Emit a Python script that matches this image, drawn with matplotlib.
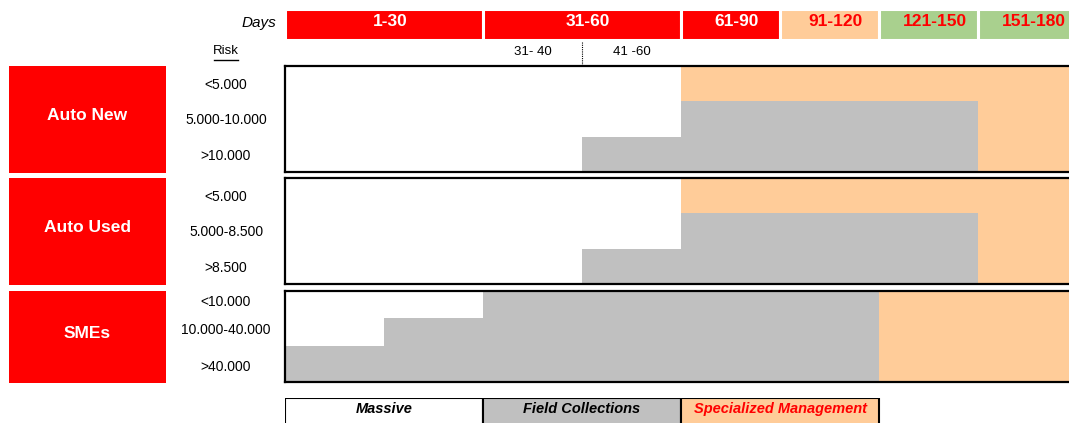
"""Collections strategy matrix: treatment by product, risk band and days past due."""

import matplotlib
matplotlib.use("Agg")
import matplotlib.pyplot as plt
import numpy as np
from matplotlib.patches import Rectangle, Polygon

plt.rcParams["font.family"] = ["Liberation Sans", "DejaVu Sans"]

# ---- data -------------------------------------------------------------
day_bins = ["1-30", "31-60", "61-90", "91-120", "121-150", "151-180"]
day_bin_cols = [2, 2, 1, 1, 1, 1]          # grid columns covered by each day bin
sub_bins = ["31- 40", "41 -60"]            # split of the 31-60 bin

products = ["Auto New", "Auto Used", "SMEs"]
auto_new_risk = ["<5.000", "5.000-10.000", ">10.000"]
auto_used_risk = ["<5.000", "5.000-8.500", ">8.500"]
smes_risk = ["<10.000", "10.000-40.000", ">40.000"]

# grid column where field collections / specialized management begin
auto_new_field = [4, 4, 3]
auto_new_special = [4, 7, 7]
auto_used_field = [4, 4, 3]
auto_used_special = [4, 7, 7]
smes_field = [2, 1, 0]
smes_special = [6, 6, 6]

legend_labels = ["Massive", "Field Collections", "Specialized Management"]

# ---- styles ------------------------------------------------------------
RED = "#FF0000"
GRAY = "#C0C0C0"
ORANGE = "#FFCC99"
GREEN = "#A9D08E"
bin_colors = [RED, RED, RED, ORANGE, GREEN, GREEN]
bin_text = ["white", "white", "white", RED, RED, RED]
legend_fill = ["white", GRAY, ORANGE]
legend_text = ["black", "black", RED]

# ---- layout (pixels) ---------------------------------------------------
W, H = 1069, 423
GX0, COL_W = 285, 99
n_cols = sum(day_bin_cols)
GX1 = GX0 + n_cols * COL_W
panel_y = [(66, 172), (178, 284), (291, 382)]
panel_rows = [[1, 1, 1], [1, 1, 1], [27, 28, 36]]
label_shift = [[1.5, 1.5, 1.5], [1.5, 1.5, 1.5], [-2.5, -2.5, 3]]   # risk label nudge (px)


def rect(x0, y0, x1, y1):
    return [x0 / W, 1 - y1 / H, (x1 - x0) / W, (y1 - y0) / H]


fig = plt.figure(figsize=(W / 100, H / 100), dpi=100)
ax0 = fig.add_axes([0, 0, 1, 1])
ax0.set_xlim(0, W)
ax0.set_ylim(H, 0)
ax0.axis("off")

# header: day bins
hdr = fig.add_axes(rect(GX0, 9, GX1, 40))
lefts = np.concatenate([[0], np.cumsum(day_bin_cols)[:-1]])
hdr.barh(0.5, day_bin_cols, left=lefts, height=1, color=bin_colors,
         edgecolor="white", linewidth=2.2)
for lab, l, w, tc in zip(day_bins, lefts, day_bin_cols, bin_text):
    hdr.text(l + w / 2 + 0.06, 0.40, lab, ha="center", va="center",
             fontsize=12.5, fontweight="bold", color=tc)
hdr.set_xlim(0, n_cols)
hdr.set_ylim(1, 0)
hdr.axis("off")
ax0.add_patch(Polygon([(286, 10), (291, 10), (286, 15)], color="#1E8C1E", lw=0))
ax0.text(276, 23, "Days", ha="right", va="center", fontsize=11, style="italic")

# sub header: risk + split of 31-60
sub = fig.add_axes(rect(GX0, 40, GX1, 66))
split_left = lefts[day_bins.index("31-60")]
for i, lab in enumerate(sub_bins):
    sub.text(split_left + i + 0.5, 0.45, lab, ha="center", va="center", fontsize=9.5)
sub.plot([split_left + 1] * 2, [0.08, 1.0], color="black", lw=0.8, ls=(0, (1, 1)))
sub.set_xlim(0, n_cols)
sub.set_ylim(1, 0)
sub.axis("off")
ax0.text(226, 51, "Risk", ha="center", va="center", fontsize=9.5)
ax0.plot([214, 238], [60, 60], color="black", lw=1)

# product panels
risks = [auto_new_risk, auto_used_risk, smes_risk]
fields = [auto_new_field, auto_used_field, smes_field]
specials = [auto_new_special, auto_used_special, smes_special]
for prod, (y0, y1), rh, rk, fs, sp, dys in zip(products, panel_y, panel_rows,
                                                risks, fields, specials, label_shift):
    ax0.add_patch(Rectangle((9, y0), 157, y1 - y0 + 1, color=RED, lw=0))
    ax0.text(87.5, (y0 + y1) / 2 - 3, prod, ha="center", va="center",
             fontsize=12.5, fontweight="bold", color="white")

    ax = fig.add_axes(rect(GX0, y0, GX1, y1))
    rh = np.array(rh, dtype=float)
    rh = rh / rh.sum()
    centers = np.cumsum(rh) - rh / 2
    fs = np.array(fs)
    sp = np.array(sp)
    ax.barh(centers, sp - fs, left=fs, height=rh, color=GRAY, lw=0, antialiased=False)
    ax.barh(centers, n_cols - sp, left=sp, height=rh, color=ORANGE, lw=0, antialiased=False)
    ax.set_xlim(0, n_cols)
    ax.set_ylim(1, 0)
    ax.set_xticks([])
    ax.set_yticks([])
    for s in ax.spines.values():
        s.set_linewidth(1.6)
        s.set_color("black")
    for c, lab, dy in zip(centers, rk, dys):
        ax0.text(226, y0 + c * (y1 - y0) + dy, lab, ha="center", va="center", fontsize=10)

# legend
leg = fig.add_axes(rect(GX0, 398, GX1, 434))
leg.barh(0.5, [2, 2, 2], left=[0, 2, 4], height=1, color=legend_fill,
         edgecolor="black", linewidth=1.5)
for i, (lab, tc) in enumerate(zip(legend_labels, legend_text)):
    leg.text(2 * i + 1, 0.3, lab, ha="center", va="center", fontsize=10.5,
             fontweight="bold", style="italic", color=tc)
leg.set_xlim(0, n_cols)
leg.set_ylim(1, 0)
leg.axis("off")

fig.savefig("out.png", dpi=100)
